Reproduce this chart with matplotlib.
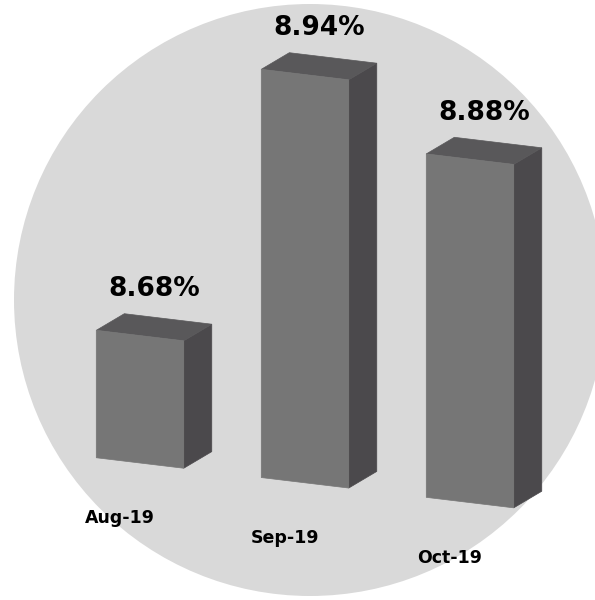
import matplotlib.pyplot as plt
import matplotlib.patches as mpatches
import matplotlib.transforms as mtransforms
from matplotlib.patches import Polygon

# data
months = ['Aug-19', 'Sep-19', 'Oct-19']
rates = [8.68, 8.94, 8.88]
value_labels = ['8.68%', '8.94%', '8.88%']

base = 8.562          # value where the bars start
bar_w = 0.53          # front face width (category units)
depth_x = 0.17        # 3d depth in category units
depth_y = 0.0185      # 3d depth in value units
shear = 0.12          # perspective tilt, px down per px right
x0 = 140

front_col = '#767676'
top_col = '#59585a'
side_col = '#4b494c'

fig = plt.figure(figsize=(5.95, 6.0), dpi=100)
fig.patch.set_facecolor('white')

# grey disc behind everything
disc = mpatches.Ellipse((310 / 595, 300 / 600), 592 / 595, 592 / 600,
                        transform=fig.transFigure, facecolor='#d9d9d9',
                        edgecolor='none', zorder=-1)
fig.patches.append(disc)

ax = fig.add_axes([0, 0, 1, 1])
ax.set_xlim(-140 / 165, (595 - 140) / 165)
ax.set_ylim(base - 137 / 1080, base + 463 / 1080)
ax.axis('off')
ax.patch.set_alpha(0)

# tilt everything a bit, like the original perspective
tilt = mtransforms.Affine2D.from_values(1, -shear, 0, 1, 0, shear * x0)
tr = ax.transData + tilt

for i, v in enumerate(rates):
    l, r = i - bar_w / 2, i + bar_w / 2
    side = Polygon([(r, base), (r + depth_x, base + depth_y),
                    (r + depth_x, v + depth_y), (r, v)],
                   closed=True, facecolor=side_col, edgecolor=side_col,
                   lw=0.5, transform=tr)
    top = Polygon([(l, v), (r, v), (r + depth_x, v + depth_y),
                   (l + depth_x, v + depth_y)],
                  closed=True, facecolor=top_col, edgecolor=top_col,
                  lw=0.5, transform=tr)
    front = Polygon([(l, base), (r, base), (r, v), (l, v)],
                    closed=True, facecolor=front_col, edgecolor=front_col,
                    lw=0.5, transform=tr)
    ax.add_patch(side)
    ax.add_patch(top)
    ax.add_patch(front)

    # value label above the bar
    ax.annotate(value_labels[i], xy=(i + depth_x / 2, v + depth_y / 2),
                xycoords=tr, xytext=(0, 38), textcoords='offset pixels',
                ha='center', va='center', fontsize=19, fontweight='bold',
                color='black')
    # month label below
    ax.annotate(months[i], xy=(i, base), xycoords=tr,
                xytext=(-20, -55), textcoords='offset pixels',
                ha='center', va='center', fontsize=12.5, fontweight='bold',
                color='black')

plt.savefig('out.png', dpi=100)
plt.close()
